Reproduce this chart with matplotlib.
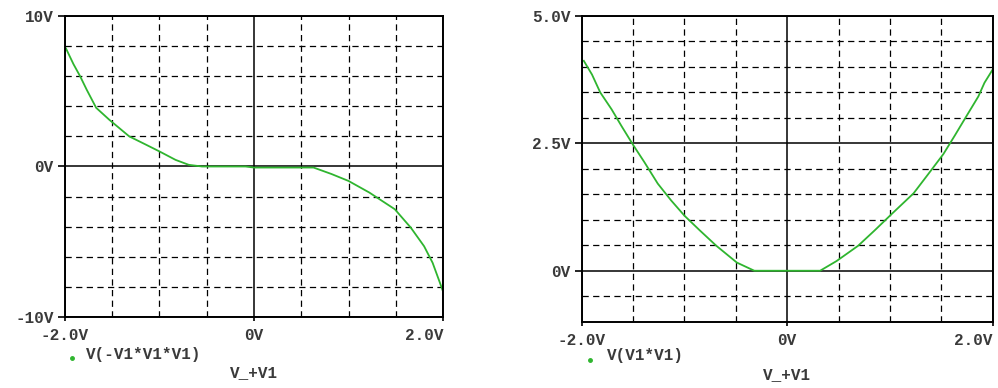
import matplotlib
matplotlib.use("Agg")
import matplotlib.pyplot as plt
from matplotlib.font_manager import FontProperties
from matplotlib.ticker import MultipleLocator, FuncFormatter

# sweep V_+V1 and the two behavioural outputs
cube_x = [-1.99, -1.91, -1.84, -1.77, -1.67, -1.53, -1.32, -1.14, -1.0, -0.83,
          -0.69, -0.55, -0.09, 0.0, 0.63, 0.82, 1.0, 1.22, 1.49, 1.66, 1.80,
          1.89, 1.96, 2.0]
cube_y = [7.85, 6.8, 6.0, 5.1, 3.9, 3.1, 2.0, 1.44, 1.0, 0.44,
          0.11, 0.0, 0.0, -0.07, -0.07, -0.5, -0.96, -1.73, -2.84, -4.07, -5.3,
          -6.4, -7.6, -8.3]

sq_x = [-1.98, -1.90, -1.82, -1.71, -1.61, -1.50, -1.39, -1.26, -1.13, -1.0,
        -0.85, -0.69, -0.49, -0.32, 0.32, 0.48, 0.69, 0.85, 1.02, 1.23, 1.37,
        1.52, 1.63, 1.74, 1.86, 1.92, 2.0]
sq_y = [4.12, 3.85, 3.5, 3.17, 2.83, 2.47, 2.13, 1.71, 1.38, 1.08,
        0.79, 0.49, 0.16, 0.0, 0.0, 0.19, 0.49, 0.79, 1.12, 1.52, 1.89,
        2.29, 2.65, 3.02, 3.42, 3.69, 3.95]

trace_names = ["V(-V1*V1*V1)", "V(V1*V1)"]
sweep_name = "V_+V1"
x_ticks = [-2.0, 0.0, 2.0]

GREEN = "#2fb52f"
TXT = "#3a3a3a"
FONT = dict(family="Liberation Mono", weight="bold", size=11.5, color=TXT)


def volt(v, pos=None):
    if abs(v) < 1e-9:
        return "0V"
    if float(v).is_integer() and abs(v) >= 10:
        return f"{v:.0f}V"
    return f"{v:.1f}V"


def setup(ax, ylim, ymajor, yminor):
    ax.set_xlim(-2, 2)
    ax.set_ylim(*ylim)
    ax.set_xticks(x_ticks)
    ax.xaxis.set_minor_locator(MultipleLocator(0.5))
    ax.yaxis.set_major_locator(MultipleLocator(ymajor))
    ax.yaxis.set_minor_locator(MultipleLocator(yminor))
    ax.xaxis.set_major_formatter(FuncFormatter(volt))
    ax.yaxis.set_major_formatter(FuncFormatter(volt))
    ax.grid(which="major", color="black", linewidth=1.1, linestyle="-")
    ax.grid(which="minor", color="black", linewidth=0.9, linestyle=(0, (5, 3.5)))
    ax.set_axisbelow(True)
    ax.tick_params(which="minor", length=0)
    ax.tick_params(axis="y", which="major", direction="out", length=5,
                   width=1.2, pad=3)
    ax.tick_params(axis="x", which="major", direction="out", length=3,
                   width=1.2, pad=5)
    fp = FontProperties(family=FONT["family"], weight=FONT["weight"],
                        size=FONT["size"])
    for tick in ax.xaxis.get_major_ticks() + ax.yaxis.get_major_ticks():
        tick.label1.set_fontproperties(fp)
        tick.label1.set_color(TXT)
    # last sweep label sits inside the plot edge
    ax.xaxis.get_major_ticks()[-1].label1.set_horizontalalignment("right")
    for s in ax.spines.values():
        s.set_linewidth(1.4)
        s.set_color("black")


fig = plt.figure(figsize=(9.98, 3.88), dpi=100)
ax1 = fig.add_axes([0.0651, 0.183, 0.3788, 0.7758])
ax2 = fig.add_axes([0.5829, 0.1709, 0.4118, 0.7879])

ax1.plot(cube_x, cube_y, color=GREEN, linewidth=1.3)
ax2.plot(sq_x, sq_y, color=GREEN, linewidth=1.3)

setup(ax1, (-10, 10), 10, 2)
setup(ax2, (-1, 5), 2.5, 0.5)

# trace legend and sweep variable under each plot
for ax, name, lx, ly, mx, my, sy in [
        (ax1, trace_names[0], 0.0556, -0.123, 0.0185, -0.136, -0.183),
        (ax2, trace_names[1], 0.0616, -0.112, 0.0202, -0.125, -0.174)]:
    ax.plot([mx], [my], transform=ax.transAxes, clip_on=False, marker="o",
            markersize=2.5, color=GREEN, linestyle="none")
    ax.text(lx, ly, name, transform=ax.transAxes, ha="left", va="center", **FONT)
    ax.text(0.5, sy, sweep_name, transform=ax.transAxes, ha="center",
            va="center", **FONT)

fig.canvas.draw()
for ax in (ax1, ax2):
    ax.xaxis.get_major_ticks()[-1].label1.set_horizontalalignment("right")

fig.savefig("out.png", dpi=100)
